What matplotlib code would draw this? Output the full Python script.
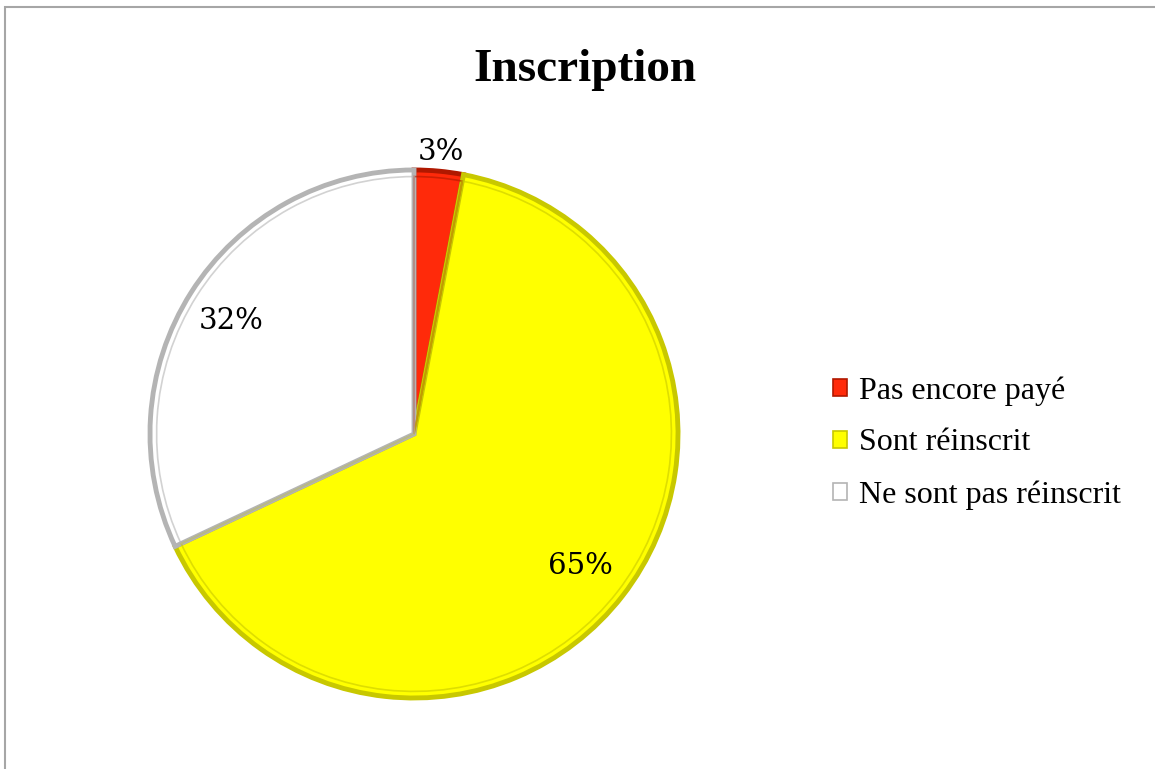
import matplotlib
matplotlib.use("Agg")
import matplotlib.pyplot as plt
import numpy as np
from matplotlib.patches import Patch, Rectangle

labels = ["Pas encore payé", "Sont réinscrit", "Ne sont pas réinscrit"]
values = [3, 65, 32]
colors = ["#FF2A0A", "#FFFF00", "#FFFFFF"]
edge_colors = ["#B01800", "#C8C800", "#B4B4B4"]
title = "Inscription"

fig = plt.figure(figsize=(11.55, 7.69), dpi=100)
fig.patches.append(Rectangle((4.5/1155, -0.1), 1.2, 1.1 - 7.5/769,
                             transform=fig.transFigure, fill=False,
                             edgecolor="#A6A6A6", linewidth=1.5))

ax = fig.add_axes([0.1070, 0.0580, 0.5029, 0.7553])
wedges, _ = ax.pie(values, colors=colors, startangle=90, counterclock=False,
                   radius=1.0, wedgeprops=dict(linewidth=3.5, edgecolor="none"))
for w, ec in zip(wedges, edge_colors):
    w.set_edgecolor(ec)
# inner bevel line
inner, _ = ax.pie(values, colors=["none"] * 3, startangle=90, counterclock=False,
                  radius=0.975, wedgeprops=dict(linewidth=1.2, fill=False))
for w, ec in zip(inner, edge_colors):
    w.set_edgecolor(ec)
    w.set_alpha(0.6)

label_dist = [1.085, 0.80, 0.82]
total = sum(values)
for w, v, d in zip(wedges, values, label_dist):
    ang = np.deg2rad((w.theta1 + w.theta2) / 2)
    cx, cy = w.center
    ax.text(cx + d * np.cos(ang), cy + d * np.sin(ang), f"{round(100*v/total)}%",
            ha="center", va="center_baseline", fontsize=21, family="DejaVu Serif")
ax.set_xlim(-1.1, 1.1)
ax.set_ylim(-1.1, 1.1)
ax.set_aspect("equal")
ax.axis("off")

fig.text(585/1155, 1 - 70/769, title, ha="center", va="center",
         fontsize=34, fontweight="bold", family="Liberation Serif")

handles = [Patch(facecolor=c, edgecolor=e, linewidth=1.2) for c, e in zip(colors, edge_colors)]
fig.legend(handles, labels, loc="center left", bbox_to_anchor=(833/1155, 1 - 443/769),
           frameon=False, prop=dict(family="Liberation Serif", size=23),
           handlelength=0.45, handleheight=0.45, handletextpad=0.35,
           labelspacing=0.71, borderpad=0, borderaxespad=0)

fig.savefig("out.png", dpi=100)
